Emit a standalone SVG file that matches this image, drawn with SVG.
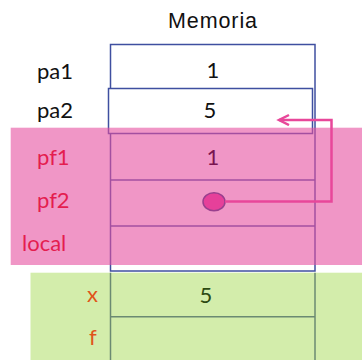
<svg xmlns="http://www.w3.org/2000/svg" width="362" height="360" viewBox="0 0 362 360">
  <style>
    .box{fill:#ffffff;stroke:#3f4fa0;stroke-width:1.5}
    .rule{stroke:#3f4fa0;stroke-width:1.5;fill:none}
    .grule{stroke:#6b8a72;stroke-width:1.5;fill:none}
    .lbl{font-family:Lato,"Open Sans",sans-serif;font-size:22px}
    .val{font-family:Lato,"Open Sans",sans-serif;font-size:22px;text-anchor:middle}
    .frame{fill:#e650a0;opacity:0.6}
    .link{fill:none;stroke:#e8479a;stroke-width:2.5}
  </style>
  <defs>
    <marker id="chev" markerWidth="14" markerHeight="14" refX="11" refY="6" orient="auto" markerUnits="userSpaceOnUse">
      <path d="M1,1 L11,6 L1,11" fill="none" stroke="#e8479a" stroke-width="2.5" stroke-linejoin="miter"/>
    </marker>
  </defs>

  <text x="213" y="27.5" font-family="Liberation Sans, Arial, sans-serif" font-size="21.5" text-anchor="middle" letter-spacing="0.9" fill="#111">Memoria</text>

  <!-- memory column -->
  <g id="column">
    <rect class="box" x="110.5" y="44.5" width="204.5" height="226.5"/>
    <line class="rule" x1="110.5" y1="180" x2="315" y2="180"/>
    <line class="rule" x1="110.5" y1="226" x2="315" y2="226"/>
  </g>

  <g id="pa1">
    <text class="lbl" x="37" y="79" fill="#111">pa1</text>
    <text class="val" x="213" y="78" fill="#111">1</text>
  </g>

  <g id="pa2">
    <rect class="box" x="108.5" y="88.5" width="204" height="45"/>
    <text class="lbl" x="37" y="118" fill="#111">pa2</text>
    <text class="val" x="210" y="118" fill="#111">5</text>
  </g>

  <!-- function frame -->
  <rect class="frame" x="10.7" y="127.7" width="351.3" height="137.3"/>

  <g id="pf1">
    <text class="lbl" x="37" y="165" fill="#e41d4f">pf1</text>
    <text class="val" x="213" y="165" fill="#7a1450">1</text>
  </g>
  <g id="pf2">
    <text class="lbl" x="37" y="208" fill="#e41d4f">pf2</text>
    <ellipse cx="214" cy="201.7" rx="11" ry="9" fill="#e6409a" stroke="#9a3f8e" stroke-width="1.5"/>
  </g>
  <g id="local">
    <text class="lbl" x="22" y="251" fill="#e41d4f">local</text>
  </g>

  <!-- caller frame -->
  <rect x="30.5" y="272.7" width="331.5" height="87.3" fill="#d3edab"/>
  <g id="x">
    <line class="grule" x1="110.5" y1="272.7" x2="110.5" y2="360"/>
    <line class="grule" x1="315" y1="272.7" x2="315" y2="360"/>
    <line class="grule" x1="110.5" y1="316.7" x2="315" y2="316.7"/>
    <text class="lbl" x="87" y="302" fill="#e0541a">x</text>
    <text class="val" x="206" y="303" fill="#2c4a12">5</text>
  </g>
  <g id="f">
    <text class="lbl" x="89" y="345" fill="#e0541a">f</text>
  </g>

  <g id="connectors">
    <path class="link" d="M225,201.5 H331.5 V120 H279" marker-end="url(#chev)"/>
  </g>
</svg>
